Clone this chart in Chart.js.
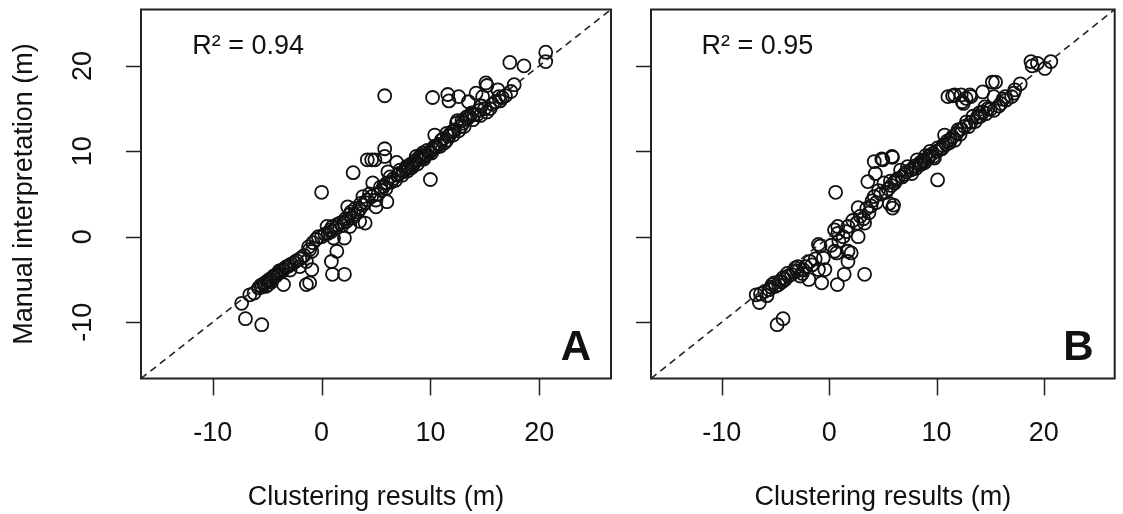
<!DOCTYPE html>
<html>
<head>
<meta charset="utf-8">
<script src="https://cdn.jsdelivr.net/npm/chart.js@4.4.1/dist/chart.umd.min.js"></script>
<style>
    html, body { margin: 0; padding: 0; background: #fff; }
    body { width: 1123px; height: 514px; position: relative; overflow: hidden; }
    .panel { position: absolute; top: 0; }
    #wrapA { left: 0; width: 625px; height: 514px; }
    #wrapB { left: 625px; width: 498px; height: 514px; }
</style>
</head>
<body>
<div class="panel" id="wrapA"><canvas id="chartA" width="625" height="514"></canvas></div>
<div class="panel" id="wrapB"><canvas id="chartB" width="498" height="514"></canvas></div>
<script>
// Panel A: clustering result (x) vs manual interpretation (y), metres
const clusterA = [
    20.6, 20.6, 17.3, 18.6, 17.7, 17.4, 16.2, 16.3, 15.1, 15.2,
    14.8, 14.2, 12.6, 11.6, 11.7, 10.2, 5.8, 13.5, 15.5, 16.0,
    16.6, 14.5, 14.0, 13.6, 13.3, 12.9, 12.5, 12.4, 12.8, 12.2,
    11.8, 11.5, 11.5, 11.0, 10.4, 10.6, 10.2, 10.8, 9.9, 9.6,
    9.3, 9.2, 8.9, 8.7, 8.5, 8.2, 8.0, 7.8, 7.5, 7.2,
    7.0, 6.9, 6.6, 6.3, 6.1, 6.0, 5.7, 5.5, 6.0, 5.0,
    5.0, 4.7, 4.4, 3.8, 3.8, 4.0, 5.8, 5.8, 4.6, 4.2,
    4.9, 2.9, 10.0, 0.0, 3.5, 3.3, 3.0, 2.6, 2.4, 2.8,
    2.3, 2.0, 1.7, 1.4, 1.0, 0.8, 0.5, 0.6, 0.0, -0.5,
    1.1, 2.1, 2.6, 3.5, 4.0, 1.4, 0.9, 1.0, 2.1, -0.9,
    -1.1, -1.4, -0.9, -2.0, -1.4, -1.1, -3.5, -1.6, -2.0, -2.5,
    -2.9, -3.0, -3.3, -3.5, -3.7, -4.0, -4.2, -4.5, -4.8, -5.0,
    -5.3, -5.5, -4.6, -4.9, -5.1, -6.2, -6.6, -7.35, -7.0, -5.5,
    7.7, 8.4, 9.0, 9.5, 10.0, 11.2, 12.0, 13.0, 13.8, 14.3,
    15.0, 14.7,
    -5.8, -5.6, -5.2, -4.7, -4.4, -4.1, -3.9, -3.6, -3.2, -2.8,
    -2.3, -1.8, -1.2, -0.8, -0.3, 0.3, 0.9, 1.3, 1.9, 2.2,
    2.7, 3.1, 3.6, 4.2, 4.6, 5.2, 5.4, 5.9, 6.4, 6.8,
    7.1, 7.4, 7.9, 8.3, 8.6, 8.8, 9.1, 9.4, 9.7, 10.1,
    10.4, 10.9, 11.3, 11.7, 12.1, 12.6, 13.1, 13.4, 13.9, 14.6,
    15.2, 15.7, 16.4, 16.9
];
const manualA = [
    21.6, 20.5, 20.4, 20.0, 17.8, 17.0, 17.2, 16.4, 18.0, 17.7,
    16.4, 16.8, 16.4, 16.65, 15.9, 16.3, 16.5, 15.8, 15.0, 15.8,
    16.3, 14.8, 14.3, 14.1, 14.0, 13.6, 13.6, 13.3, 12.9, 12.5,
    12.0, 12.1, 11.3, 11.3, 11.9, 10.5, 10.3, 10.8, 9.9, 9.6,
    9.8, 9.2, 9.0, 9.4, 8.6, 8.5, 8.0, 8.2, 7.6, 7.8,
    7.2, 8.7, 6.8, 7.0, 7.6, 6.3, 5.9, 5.4, 4.1, 4.3,
    3.5, 6.3, 5.0, 4.7, 3.7, 4.0, 10.3, 9.4, 9.0, 9.0,
    9.0, 7.5, 6.7, 5.2, 3.2, 2.9, 2.6, 2.6, 3.5, 2.2,
    1.8, 1.7, 1.6, 1.4, 1.2, 0.8, 1.2, 0.4, 0.0, -0.3,
    -0.15, -0.15, 1.2, 1.8, 1.6, -1.7, -2.9, -4.4, -4.4, -1.7,
    -1.5, -2.9, -3.85, -3.5, -5.6, -5.4, -5.6, -2.2, -2.6, -3.0,
    -3.9, -3.4, -3.6, -3.8, -4.1, -4.3, -4.6, -4.8, -5.0, -5.2,
    -5.5, -5.9, -5.3, -5.6, -5.8, -6.6, -6.8, -7.8, -9.6, -10.3,
    7.9, 8.4, 9.3, 9.4, 10.0, 11.5, 12.3, 13.3, 14.5, 14.3,
    15.0, 15.3,
    -6.0, -5.7, -5.4, -5.1, -4.6, -4.4, -4.0, -3.9, -3.5, -3.2,
    -2.8, -2.4, -1.2, -0.7, 0.0, 0.3, 0.6, 1.0, 1.3, 2.1,
    2.9, 3.3, 3.9, 4.3, 4.7, 5.0, 5.8, 5.6, 6.4, 6.6,
    7.4, 7.2, 7.7, 8.1, 8.9, 8.5, 9.5, 9.1, 10.1, 9.8,
    10.6, 10.6, 11.0, 11.8, 11.9, 12.4, 12.9, 13.8, 13.7, 14.2,
    14.6, 15.5, 15.9, 16.5
];

// Panel B
const clusterB = [
    20.65, 20.1, 18.8, 18.9, 19.4, 17.8, 17.3, 17.0, 16.4, 15.2,
    15.5, 15.35, 14.3, 13.2, 12.75, 12.3, 11.06, 11.5, 11.7, 13.1,
    12.5, 12.4, 15.35, 16.0, 14.8, 14.3, 13.4, 13.8, 12.8, 13.0,
    12.3, 11.9, 11.5, 11.0, 10.75, 10.6, 10.3, 10.0, 9.6, 9.4,
    9.2, 8.8, 8.5, 8.2, 8.0, 7.6, 7.3, 7.0, 6.65, 6.4,
    6.1, 5.8, 5.5, 5.1, 5.6, 5.9, 6.0, 4.8, 4.2, 4.0,
    3.7, 3.5, 3.3, 2.6, 2.7, 1.75, 0.8, 0.8, 1.3, 0.5,
    2.7, 10.1, 5.85, 4.9, 4.2, 5.0, 5.9, 4.3, 3.6, 0.6,
    2.05, 1.75, 0.7, 0.5, 1.75, -0.55, -1.0, -0.85, 3.3, 1.4,
    -0.4, -0.7, 0.76, -1.8, -2.7, -3.15, -2.2, -1.6, -1.0, -1.9,
    -2.5, -3.0, -3.5, -3.8, -4.1, -4.4, -4.7, -5.0, -5.3, -5.6,
    -5.8, -6.4, -6.5, -6.8, -4.85, -4.3, 7.8, 8.6, 9.0, 9.8,
    11.2, 12.0, 14.0, 14.5, 16.2,
    -6.0, -5.4, -5.1, -4.6, -4.3, -3.9, -3.3, -2.9, -2.4, -1.3,
    0.2, 0.9, 1.6, 2.2, 2.9, 3.2, 3.9, 4.4, 4.6, 5.3,
    5.7, 6.2, 6.8, 7.2, 7.7, 8.1, 8.4, 8.9, 9.3, 9.7,
    10.1, 10.5, 10.9, 11.3, 11.7, 12.2, 12.6, 13.2, 13.6, 14.1,
    14.6, 15.0, 15.8, 16.5, 17.2
];
const manualB = [
    20.5, 19.7, 20.5, 20.0, 20.3, 17.9, 17.2, 16.4, 16.4, 18.1,
    18.1, 16.4, 16.95, 16.4, 16.2, 16.6, 16.4, 16.5, 16.6, 16.6,
    15.6, 15.8, 14.8, 15.6, 15.0, 14.6, 14.1, 14.0, 13.45, 12.9,
    12.6, 12.1, 11.7, 11.2, 11.9, 10.7, 10.2, 10.0, 9.7, 10.0,
    9.1, 9.0, 8.7, 9.0, 8.3, 7.8, 8.2, 7.3, 7.8, 6.8,
    6.3, 6.0, 5.6, 6.3, 3.9, 3.35, 3.7, 5.0, 4.7, 4.2,
    2.8, 3.3, 1.6, 1.6, 0.0, 1.2, 1.2, 0.4, 0.0, 0.8,
    3.4, 6.65, 9.4, 9.1, 8.8, 9.0, 9.3, 7.4, 6.45, 5.2,
    -1.9, -2.9, -1.9, -1.7, -1.7, -2.5, -0.9, -1.1, -4.4, -4.4,
    -3.85, -5.4, -5.6, -2.9, -4.6, -3.65, -3.5, -3.3, -3.85, -5.0,
    -4.3, -4.0, -4.4, -4.6, -5.0, -5.3, -5.6, -5.8, -5.6, -6.2,
    -6.9, -6.7, -7.7, -6.8, -10.3, -9.6, 8.0, 8.5, 9.5, 9.2,
    11.0, 12.5, 14.5, 15.2, 16.1,
    -6.4, -5.9, -5.4, -5.2, -4.8, -4.3, -4.1, -3.5, -3.9, -2.6,
    -1.0, -0.5, 0.6, 1.9, 2.4, 2.1, 3.6, 4.0, 5.4, 5.2,
    6.5, 6.6, 7.0, 7.6, 7.4, 8.0, 8.4, 8.7, 9.4, 9.4,
    10.4, 10.3, 10.8, 11.4, 11.3, 12.0, 12.9, 13.4, 13.5, 14.1,
    14.4, 14.9, 15.3, 16.0, 16.8
];

// shared axis range (same on both axes) and tick step
const axisMin = -16.6;
const axisMax = 26.6;
const tickStep = 10;

const FONT = '"Liberation Sans", Arial, sans-serif';
const INK = '#111';

Chart.defaults.font.family = FONT;
Chart.defaults.color = INK;

// frame around the plot region, outside tick marks, R² note and panel letter
const panelDecor = {
    id: 'panelDecor',
    afterDraw(chart, args, opts) {
        const { ctx, chartArea, scales } = chart;
        const xs = scales.x, ys = scales.y;
        ctx.save();
        ctx.strokeStyle = '#222';
        ctx.lineWidth = 2;
        ctx.strokeRect(chartArea.left, chartArea.top,
            chartArea.right - chartArea.left, chartArea.bottom - chartArea.top);

        // R-style tick marks pointing outwards
        ctx.lineWidth = 1.5;
        ctx.beginPath();
        xs.ticks.forEach(t => {
            const px = Math.round(xs.getPixelForValue(t.value)) + 0.5;
            ctx.moveTo(px, chartArea.bottom);
            ctx.lineTo(px, chartArea.bottom + 17);
        });
        ys.ticks.forEach(t => {
            const py = Math.round(ys.getPixelForValue(t.value)) + 0.5;
            ctx.moveTo(chartArea.left, py);
            ctx.lineTo(chartArea.left - 15, py);
        });
        ctx.stroke();

        ctx.fillStyle = INK;
        ctx.font = '27px ' + FONT;
        ctx.textAlign = 'left';
        ctx.textBaseline = 'middle';
        ctx.fillText(opts.note, xs.getPixelForValue(opts.noteAt[0]), ys.getPixelForValue(opts.noteAt[1]));

        ctx.font = 'bold 42px ' + FONT;
        ctx.textAlign = 'right';
        ctx.textBaseline = 'alphabetic';
        ctx.fillText(opts.letter, xs.getPixelForValue(opts.letterAt[0]), ys.getPixelForValue(opts.letterAt[1]));
        ctx.restore();
    }
};

function makePanel(canvasId, xs, ys, p) {
    const points = xs.map((x, i) => ({ x: x, y: ys[i] }));

    return new Chart(document.getElementById(canvasId), {
        type: 'scatter',
        data: {
            datasets: [{
                // 1:1 reference line
                type: 'line',
                data: [{ x: axisMin, y: axisMin }, { x: axisMax, y: axisMax }],
                borderColor: '#222',
                borderWidth: 1.6,
                borderDash: [7, 5],
                pointRadius: 0,
                fill: false
            }, {
                data: points,
                pointStyle: 'circle',
                pointRadius: 6.5,
                pointBorderWidth: 1.8,
                borderColor: INK,
                backgroundColor: 'rgba(0,0,0,0)'
            }]
        },
        options: {
            responsive: false,
            animation: false,
            devicePixelRatio: 1,
            layout: { padding: { top: 9.5, right: p.padRight, left: 0, bottom: 0 } },
            plugins: {
                legend: { display: false },
                tooltip: { enabled: false },
                panelDecor: { note: p.note, noteAt: [-11.9, 22.3], letter: p.letter, letterAt: p.letterAt }
            },
            scales: {
                x: {
                    type: 'linear',
                    min: axisMin,
                    max: axisMax,
                    afterFit: (s) => { s.height = 135.5; s.paddingLeft = 0; s.paddingRight = 0; },
                    border: { display: false },
                    grid: { display: false },
                    ticks: { stepSize: tickStep, includeBounds: false, padding: 31, maxRotation: 0, font: { size: 27 }, color: INK },
                    title: { display: true, text: 'Clustering results (m)', font: { size: 27 }, color: INK, padding: { top: 0, bottom: 0 } }
                },
                y: {
                    type: 'linear',
                    min: axisMin,
                    max: axisMax,
                    afterFit: (s) => { s.width = p.yWidth; s.paddingTop = 0; s.paddingBottom = 0; },
                    border: { display: false },
                    grid: { display: false },
                    ticks: {
                        display: p.yLabels,
                        stepSize: tickStep,
                        includeBounds: false,
                        minRotation: 90,
                        maxRotation: 90,
                        crossAlign: 'center',
                        padding: 30,
                        font: { size: 27 },
                        color: INK
                    },
                    title: { display: p.yLabels, text: 'Manual interpretation (m)', font: { size: 27 }, color: INK, padding: { top: 8, bottom: 0 } }
                }
            }
        },
        plugins: [panelDecor]
    });
}

makePanel('chartA', clusterA, manualA, {
    note: 'R² = 0.94', letter: 'A', letterAt: [24.76, -14.43],
    yWidth: 141, yLabels: true, padRight: 14
});
makePanel('chartB', clusterB, manualB, {
    note: 'R² = 0.95', letter: 'B', letterAt: [24.63, -14.43],
    yWidth: 26, yLabels: false, padRight: 2
});
</script>
</body>
</html>
